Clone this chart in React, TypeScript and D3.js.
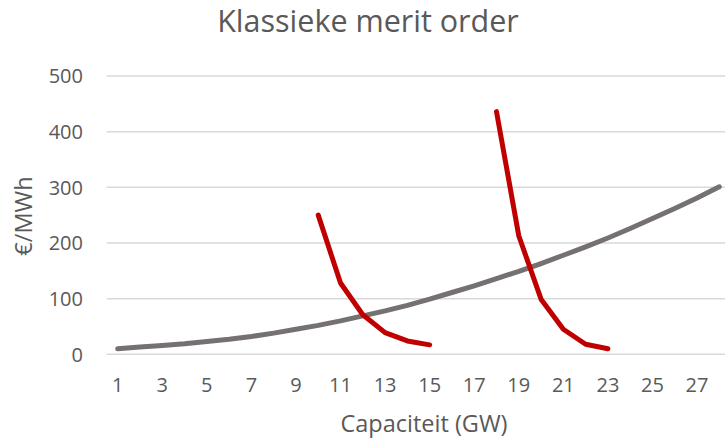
import React from "react";
import * as d3 from "d3";

const capacity: number[] = Array.from({ length: 28 }, (_, i) => i + 1);
const supply: number[] = [10, 13, 16, 19, 23, 27, 32, 38, 45, 52, 60, 69, 78, 88, 99, 111, 123, 136, 149, 163, 178, 193, 209, 226, 244, 262, 281, 301];
const demandLowX: number[] = [10, 11, 12, 13, 14, 15];
const demandLowY: number[] = [250, 128, 71, 39, 24, 17];
const demandHighX: number[] = [18, 19, 20, 21, 22, 23];
const demandHighY: number[] = [436, 213, 99, 45, 18, 10];
const yTicks: number[] = [0, 100, 200, 300, 400, 500];
const xTicks: number[] = [1, 3, 5, 7, 9, 11, 13, 15, 17, 19, 21, 23, 25, 27];

const W = 725;
const H = 440;
const FONT = "'Open Sans', sans-serif";
const TEXT = "#595959";

export default function App() {
  const x = d3.scaleLinear().domain([1, 28]).range([117.7, 719.3]);
  const y = d3.scaleLinear().domain([0, 500]).range([354.3, 76]);
  const line = d3
    .line<[number, number]>()
    .x((d) => x(d[0]))
    .y((d) => y(d[1]));

  const supplyPts = capacity.map((c, i) => [c, supply[i]] as [number, number]);
  const lowPts = demandLowX.map((c, i) => [c, demandLowY[i]] as [number, number]);
  const highPts = demandHighX.map((c, i) => [c, demandHighY[i]] as [number, number]);

  return (
    <svg
      width={W}
      height={H}
      style={{ position: "absolute", left: 0, top: 0, background: "#fff" }}
      fontFamily={FONT}
    >
      <rect width={W} height={H} fill="#fff" />
      <text x={368} y={32} textAnchor="middle" fontSize={30.5} fill={TEXT}>
        Klassieke merit order
      </text>
      {yTicks.map((t) => (
        <g key={t}>
          <line x1={106.7} x2={W} y1={y(t)} y2={y(t)} stroke="#d9d9d9" strokeWidth={1.5} />
          <text x={83} y={y(t)} dy="0.36em" textAnchor="end" fontSize={20} fill={TEXT}>
            {t}
          </text>
        </g>
      ))}
      {xTicks.map((t) => (
        <text key={t} x={x(t)} y={392} textAnchor="middle" fontSize={20} fill={TEXT}>
          {t}
        </text>
      ))}
      <text x={424} y={432} textAnchor="middle" fontSize={23.5} fill={TEXT}>
        Capaciteit (GW)
      </text>
      <text
        transform="translate(32,216) rotate(-90)"
        textAnchor="middle"
        fontSize={23.5}
        fill={TEXT}
      >
        €/MWh
      </text>
      <path d={line(supplyPts) || ""} fill="none" stroke="#767171" strokeWidth={5} strokeLinecap="round" strokeLinejoin="round" />
      <path d={line(lowPts) || ""} fill="none" stroke="#c00000" strokeWidth={5} strokeLinecap="round" strokeLinejoin="round" />
      <path d={line(highPts) || ""} fill="none" stroke="#c00000" strokeWidth={5} strokeLinecap="round" strokeLinejoin="round" />
    </svg>
  );
}
